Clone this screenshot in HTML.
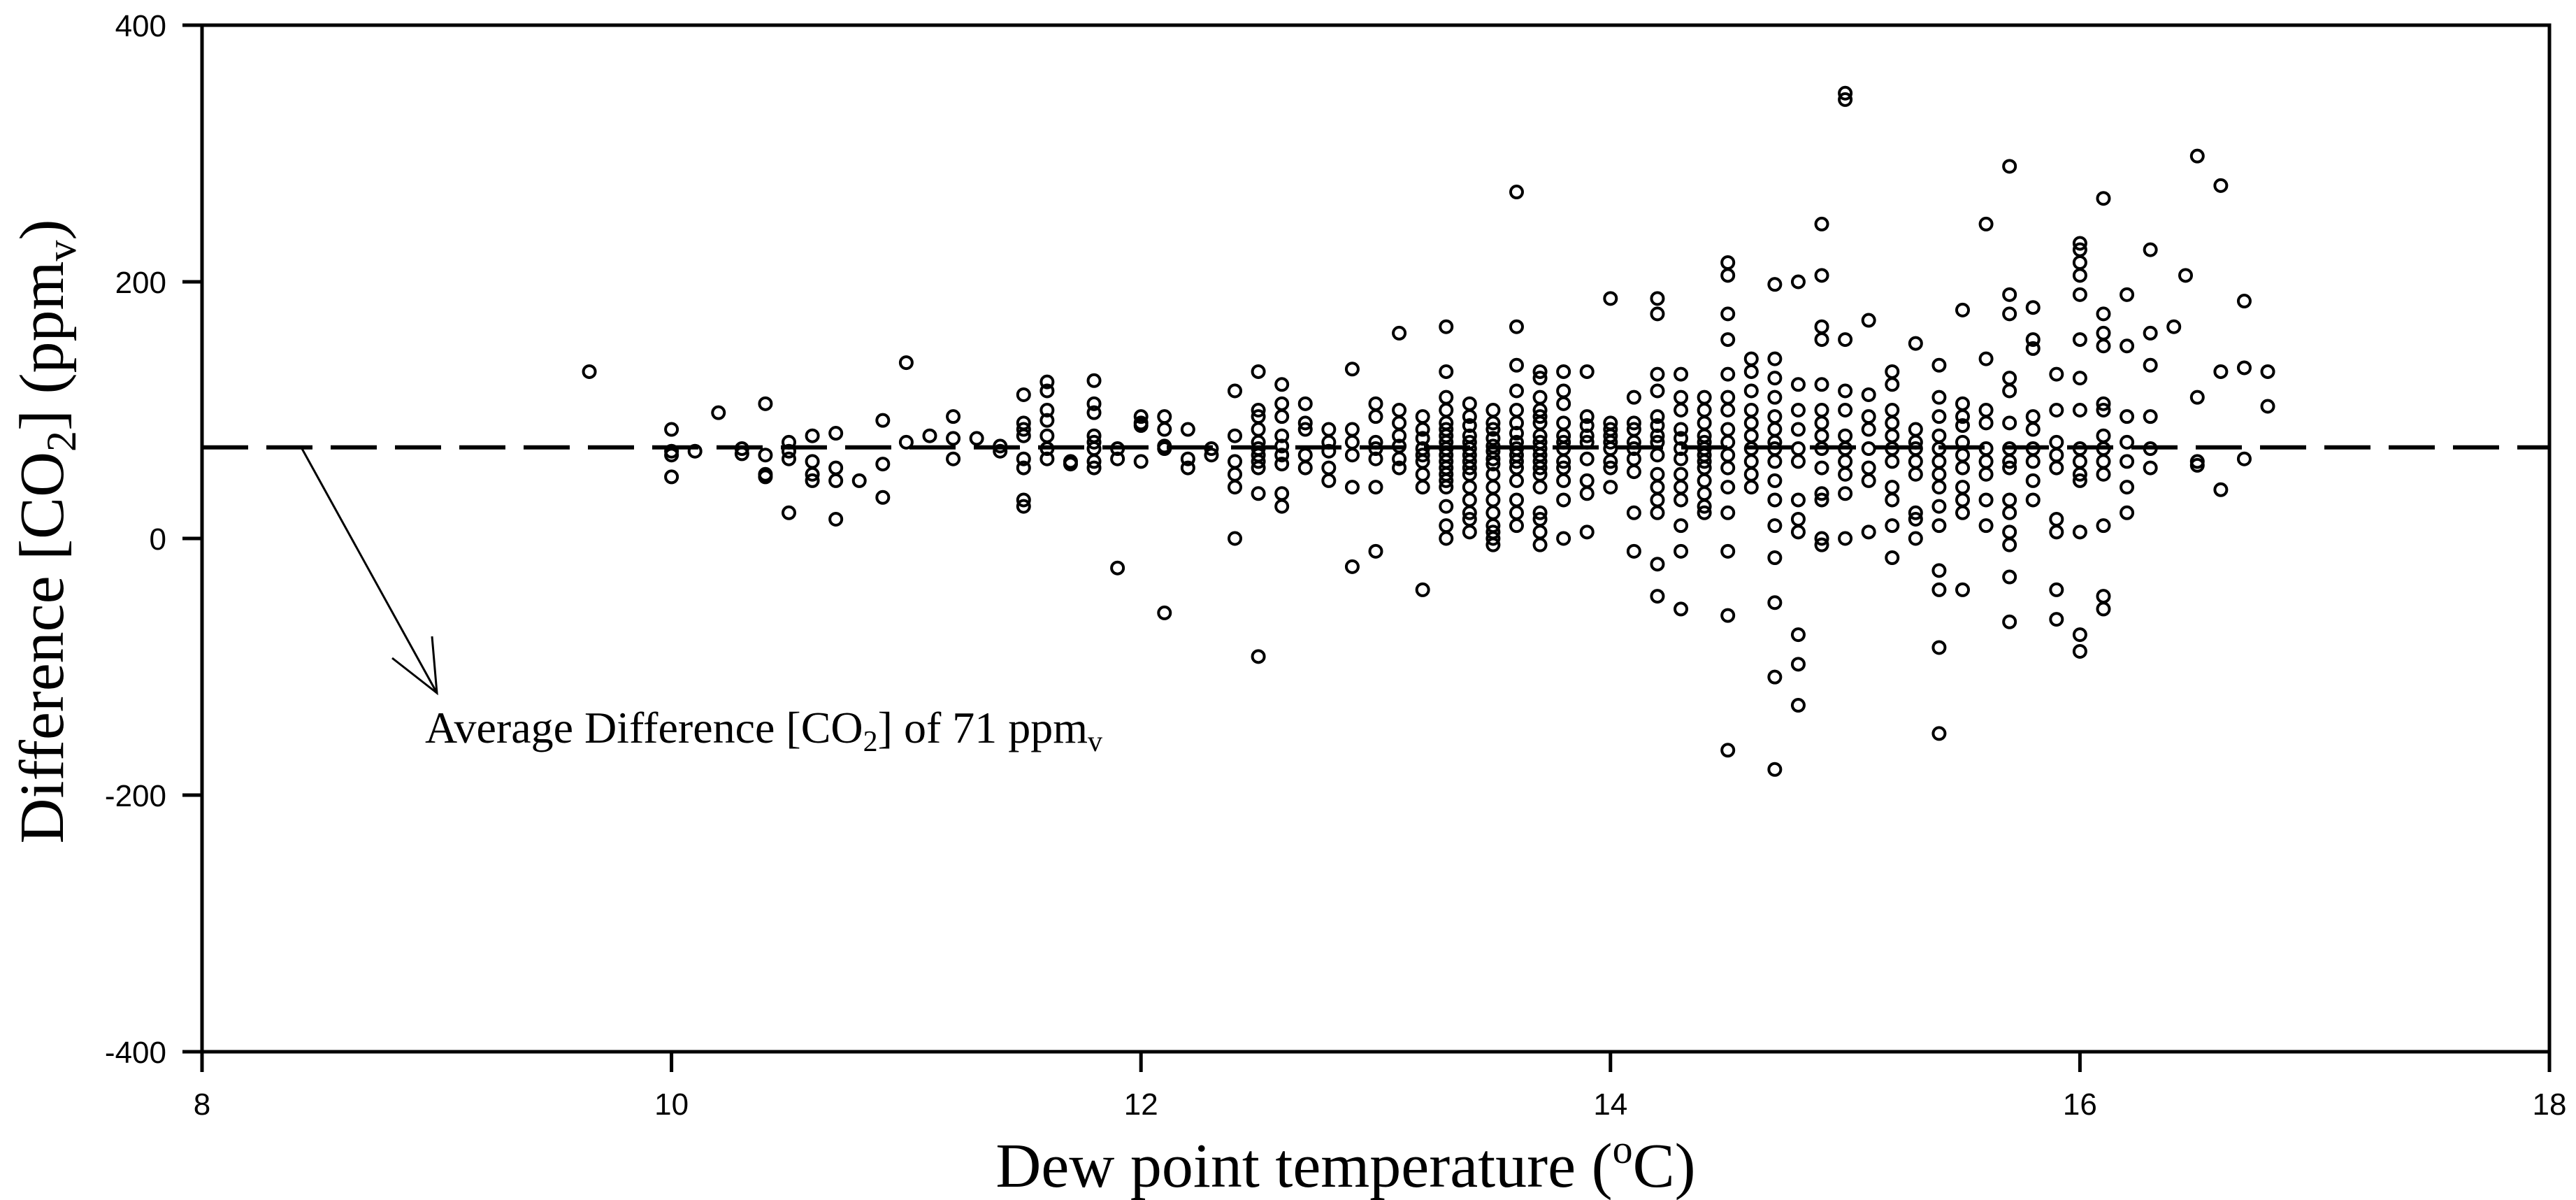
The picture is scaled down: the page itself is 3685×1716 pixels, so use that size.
<!DOCTYPE html>
<html><head><meta charset="utf-8"><style>
html,body{margin:0;padding:0;background:#fff;}
svg{display:block;}
</style></head><body>
<svg id="chart" width="3685" height="1716" viewBox="0 0 3685 1716" xmlns="http://www.w3.org/2000/svg">
<rect x="0" y="0" width="3685" height="1716" fill="#fff"/>
<g id="marks"></g>
<line id="meanline" stroke="#000" stroke-width="6" stroke-dasharray="66,26"/>
<rect x="289" y="36" width="3358" height="1468" fill="none" stroke="#000" stroke-width="5"/>
<g id="axes"></g>
<text transform="translate(90,760) rotate(-90)" text-anchor="middle" font-family="Liberation Serif, serif" font-size="90">Difference [CO<tspan font-size="60" dy="18">2</tspan><tspan dy="-18">] (ppm</tspan><tspan font-size="60" dy="18">v</tspan><tspan dy="-18">)</tspan></text>
<text x="1925" y="1697" text-anchor="middle" font-family="Liberation Serif, serif" font-size="90">Dew point temperature (<tspan font-size="58" dy="-34">o</tspan><tspan dy="34">C)</tspan></text>
<g>
<line x1="430" y1="638" x2="625" y2="991" stroke="#000" stroke-width="3"/>
<polyline points="561,941 625,991 618,910" fill="none" stroke="#000" stroke-width="3"/>
<text x="608" y="1062" font-family="Liberation Serif, serif" font-size="64">Average Difference [CO<tspan font-size="42" dy="12">2</tspan><tspan dy="-12">] of 71 ppm</tspan><tspan font-size="42" dy="12">v</tspan></text>
</g>
</svg>
<script>
const xTicks = [8, 10, 12, 14, 16, 18];
const yTicks = [400, 200, 0, -200, -400];
const meanValue = 71;
const colX = [9.65,10.0,10.1,10.2,10.3,10.4,10.5,10.6,10.7,10.8,10.9,11.0,11.1,11.2,11.3,11.4,11.5,11.6,11.7,11.8,11.9,12.0,12.1,12.2,12.3,12.4,12.5,12.6,12.7,12.8,12.9,13.0,13.1,13.2,13.3,13.4,13.5,13.6,13.7,13.8,13.9,14.0,14.1,14.2,14.3,14.4,14.5,14.6,14.7,14.8,14.9,15.0,15.1,15.2,15.3,15.4,15.5,15.6,15.7,15.8,15.9,16.0,16.1,16.2,16.3,16.4,16.45,16.5,16.6,16.7,16.8];
const colY = [
[130],[85,68,65,48],[68],[98],[70,66],[105,65,50,48],[75,68,62,20],[80,60,50,45],[82,55,45,15],[45],[92,58,32],[137,75],[80],[95,78,62],[78],[72,68],
[112,90,85,80,62,55,30,25],[122,115,100,92,80,70,62],[60,58],[123,105,98,80,75,70,60,55],[70,62,-23],[95,90,88,60],[95,85,72,70,-58],[85,62,55],[70,65],
[115,80,60,50,40,0],[130,100,95,85,75,70,65,60,55,35,-92],[120,105,95,80,72,65,58,35,25],[105,90,85,65,55],[85,75,68,55,45],[132,85,75,65,40,-22],
[105,95,75,70,62,40,-10],[160,100,90,80,72,62,55],[95,85,78,70,65,60,50,40,-40],
[165,130,110,100,90,85,80,75,70,65,60,55,50,45,40,25,10,0],
[105,95,88,80,75,70,65,60,55,50,40,30,20,15,5],
[100,90,85,78,72,68,62,58,50,40,30,20,10,0,-5,5],
[270,165,135,115,100,90,82,75,70,65,60,55,45,30,20,10],
[130,125,110,100,95,90,80,75,70,65,60,55,50,40,20,15,5,-5],
[130,115,105,90,80,75,70,60,55,45,30,0],
[130,95,88,80,75,62,45,35,5],
[187,90,85,80,75,70,60,55,40],
[110,90,85,75,70,62,52,20,-10],
[187,175,128,115,95,88,80,75,65,50,40,30,20,-20,-45],
[128,110,100,85,78,70,62,50,40,30,10,-10,-55],
[110,100,90,80,75,70,65,60,55,45,35,25,20],
[215,205,175,155,128,110,100,85,75,65,55,40,20,-10,-60,-165],
[140,130,115,100,90,80,70,60,50,40],
[198,140,125,110,95,85,75,70,60,45,30,10,-15,-50,-108,-180],
[200,120,100,85,70,60,30,15,5,-75,-98,-130],
[245,205,165,155,120,100,90,80,70,55,35,30,0,-5],
[347,342,155,115,100,80,70,60,50,35,0],
[170,112,95,85,70,55,45,5],
[130,120,100,90,80,70,60,40,30,10,-15],
[152,85,75,70,60,50,20,15,0],
[135,110,95,80,70,60,50,40,25,10,-25,-40,-85,-152],
[178,105,95,88,75,65,55,40,30,20,-40],
[245,140,100,90,70,60,50,30,10],
[290,190,175,125,115,90,70,60,55,30,20,5,-5,-30,-65],
[180,155,148,95,85,70,60,45,30],
[128,100,75,65,55,15,5,-40,-63],
[230,225,215,205,190,155,125,100,70,60,50,45,5,-75,-88],
[265,175,160,150,105,100,80,70,60,50,10,-45,-55],
[190,150,95,75,60,40,20],
[225,160,135,95,70,55],
[165],[205],[298,110,60,57],[275,130,38],[185,133,62],[130,103]
];
const NS = 'http://www.w3.org/2000/svg';
const L = 289, R = 3647, T = 36, B = 1504;
const xMin = 8, xMax = 18, yMin = -400, yMax = 400;
function sx(v){ return L + (v - xMin) / (xMax - xMin) * (R - L); }
function sy(v){ return B - (v - yMin) / (yMax - yMin) * (B - T); }

const marks = document.getElementById('marks');
colX.forEach((x, i) => {
  colY[i].forEach((y, j) => {
    const c = document.createElementNS(NS, 'circle');
    c.setAttribute('cx', sx(x));
    c.setAttribute('cy', sy(y));
    c.setAttribute('r', 8.5);
    c.setAttribute('fill', 'none');
    c.setAttribute('stroke', '#000');
    c.setAttribute('stroke-width', 4);
    
    
    marks.appendChild(c);
  });
});

const ml = document.getElementById('meanline');
ml.setAttribute('x1', L); ml.setAttribute('x2', R);
ml.setAttribute('y1', sy(meanValue)); ml.setAttribute('y2', sy(meanValue));

const axes = document.getElementById('axes');
xTicks.forEach(t => {
  const ln = document.createElementNS(NS, 'line');
  ln.setAttribute('x1', sx(t)); ln.setAttribute('x2', sx(t));
  ln.setAttribute('y1', B); ln.setAttribute('y2', B + 29);
  ln.setAttribute('stroke', '#000'); ln.setAttribute('stroke-width', 5);
  
  
  axes.appendChild(ln);
  const tx = document.createElementNS(NS, 'text');
  tx.setAttribute('x', sx(t)); tx.setAttribute('y', 1594);
  tx.setAttribute('text-anchor', 'middle');
  tx.setAttribute('font-family', 'Liberation Sans, sans-serif');
  tx.setAttribute('font-size', 44);
  tx.textContent = t;
  
  
  axes.appendChild(tx);
});
yTicks.forEach(t => {
  const ln = document.createElementNS(NS, 'line');
  ln.setAttribute('x1', L - 28); ln.setAttribute('x2', L);
  ln.setAttribute('y1', sy(t)); ln.setAttribute('y2', sy(t));
  ln.setAttribute('stroke', '#000'); ln.setAttribute('stroke-width', 5);
  
  
  axes.appendChild(ln);
  const tx = document.createElementNS(NS, 'text');
  tx.setAttribute('x', 238); tx.setAttribute('y', sy(t) + 16);
  tx.setAttribute('text-anchor', 'end');
  tx.setAttribute('font-family', 'Liberation Sans, sans-serif');
  tx.setAttribute('font-size', 44);
  tx.textContent = t;
  
  
  axes.appendChild(tx);
});
</script>
</body></html>
